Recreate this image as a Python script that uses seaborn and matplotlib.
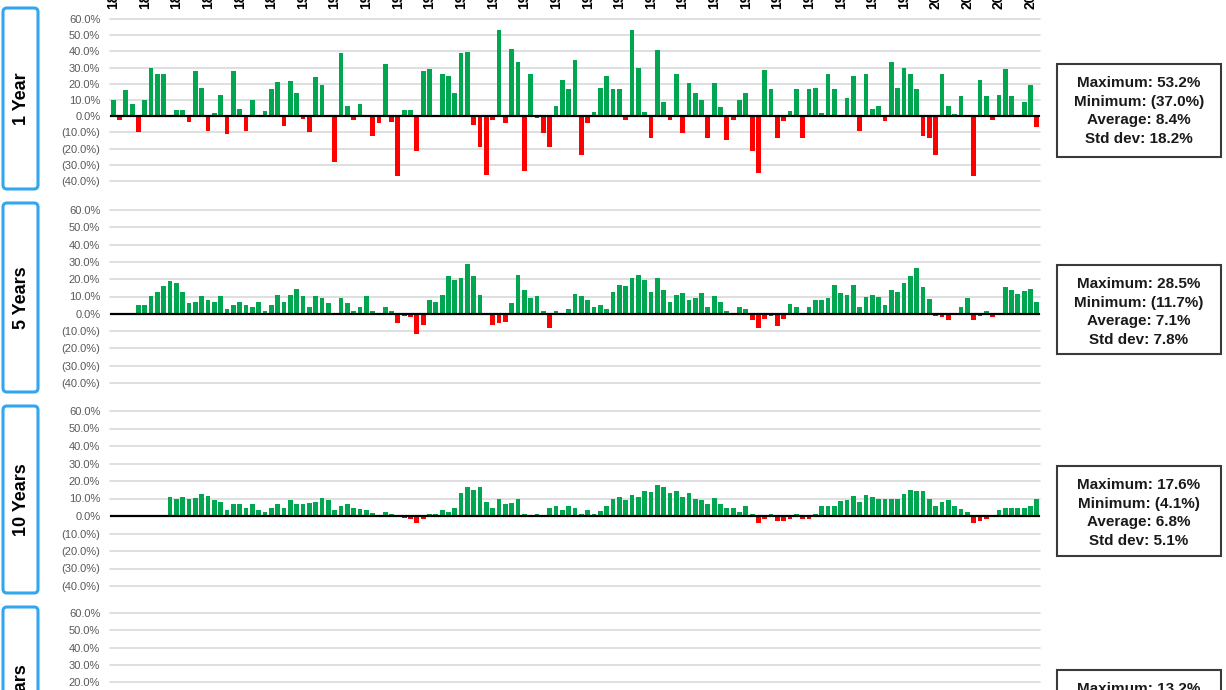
import numpy as np
import pandas as pd
import matplotlib
matplotlib.use("Agg")
import matplotlib.pyplot as plt
import seaborn as sns
from matplotlib.patches import FancyBboxPatch, Rectangle
from matplotlib.ticker import FuncFormatter

# ---------------- data ----------------
years = list(range(1872, 2019))  # 147 annual categories

ret_1y = [
    10.0, -2.5, 16.0, 7.5, -10.0, 10.0, 29.5, 26.0, 26.0, 0.5,
    4.0, 4.0, -3.5, 28.0, 17.5, -9.0, 2.0, 13.0, -11.0, 28.0,
    4.5, -9.0, 10.0, 0.5, 3.0, 17.0, 21.0, -6.0, 22.0, 14.5,
    -2.0, -10.0, 24.5, 19.0, 0.5, -28.0, 39.0, 6.5, -2.5, 7.5,
    0.5, -12.5, -4.0, 32.5, -3.3, -37.0, 4.1, 4.1, -21.3, 27.6,
    29.2, 1.0, 26.1, 24.6, 14.5, 38.9, 39.5, -5.4, -19.3, -36.2,
    -2.1, 53.2, -4.3, 41.4, 33.5, -33.9, 26.1, -1.0, -10.4, -19.3,
    6.6, 22.1, 17.0, 34.6, -23.8, -4.3, 2.9, 17.6, 24.6, 17.0,
    17.0, -2.3, 53.2, 30.0, 2.9, -13.5, 40.6, 8.7, -2.3, 26.1,
    -10.4, 20.3, 14.5, 9.7, -13.5, 20.2, 5.4, -14.7, -2.3, 9.7,
    14.5, -21.3, -35.2, 28.4, 17.0, -13.5, -3.1, 3.1, 17.0, -13.5,
    17.0, 17.6, 2.0, 25.9, 17.0, 1.0, 11.2, 24.6, -8.9, 25.9,
    4.6, 6.6, -2.7, 33.5, 17.6, 30.0, 25.9, 17.0, -12.4, -13.5,
    -23.8, 25.9, 6.6, 1.5, 12.2, 1.0, -37.0, 22.2, 12.2, -2.3,
    13.3, 29.4, 12.2, -0.5, 8.7, 19.0, -6.5,
]

start_5y = 1876
ret_5y = [
    5.2, 5.2, 10.2, 12.5, 15.8, 18.8,
    17.9, 12.5, 6.3, 7.1, 10.2, 7.7, 6.7, 10.2, 2.9, 5.2,
    7.1, 5.2, 3.8, 7.1, 1.9, 5.2, 11.0, 7.1, 11.0, 14.4,
    10.2, 3.8, 10.2, 9.0, 6.2, 0.3, 9.0, 6.2, 1.5, 3.8,
    10.2, 1.5, 0.3, 3.8, 1.9, -5.5, -1.5, -2.0, -11.7, -6.3,
    8.1, 7.1, 11.0, 21.7, 19.8, 20.6, 28.5, 21.7, 11.0, 0.3,
    -6.3, -5.2, -4.8, 6.2, 22.7, 13.5, 9.2, 10.2, 1.5, -8.3,
    1.5, 0.3, 2.9, 11.2, 10.2, 8.1, 3.8, 5.2, 2.9, 12.5,
    16.7, 16.0, 20.6, 22.7, 19.8, 12.5, 20.6, 13.5, 7.1, 11.0,
    12.1, 8.1, 9.2, 12.1, 3.8, 10.2, 7.1, 1.5, 0.3, 3.8,
    2.9, -3.3, -8.3, -2.9, -1.3, -7.1, -2.9, 5.8, 3.8, 0.5,
    3.8, 8.1, 8.1, 9.2, 16.7, 12.1, 11.0, 16.7, 3.8, 10.0,
    11.0, 10.0, 5.2, 13.5, 12.5, 17.9, 21.7, 26.3, 15.4, 8.3,
    -1.3, -1.9, -3.8, 0.3, 3.8, 9.2, -3.8, -1.3, 1.5, -1.9,
    0.3, 15.4, 13.5, 11.2, 13.1, 14.4, 7.1,
]

start_10y = 1881
ret_10y = [
    10.9,
    9.6, 10.9, 9.6, 10.3, 12.8, 11.3, 9.0, 8.0, 3.6, 6.7,
    6.7, 4.8, 6.7, 3.6, 2.3, 4.8, 6.7, 4.8, 9.0, 6.7,
    6.7, 7.5, 8.0, 10.3, 9.0, 3.6, 5.5, 6.7, 4.8, 4.2,
    3.2, 1.9, 0.8, 2.3, 1.3, 0.8, -1.0, -1.5, -4.0, -1.5,
    1.3, 1.3, 3.6, 2.3, 4.8, 13.2, 16.3, 15.1, 16.3, 8.0,
    4.8, 10.0, 6.7, 7.5, 10.0, 1.3, 0.8, 1.3, 0.8, 4.8,
    5.5, 3.6, 5.5, 4.8, 1.3, 3.6, 1.3, 2.9, 5.5, 10.0,
    10.9, 9.0, 11.9, 10.9, 14.1, 13.8, 17.6, 16.3, 13.2, 14.1,
    10.9, 13.2, 9.6, 9.0, 7.1, 10.3, 6.7, 4.8, 4.8, 2.3,
    5.7, 1.3, -4.0, -1.5, 1.3, -2.9, -2.9, -1.5, 1.3, -1.5,
    -1.5, 1.3, 5.7, 5.7, 5.7, 8.6, 9.4, 11.3, 8.0, 11.9,
    10.9, 9.9, 9.9, 9.9, 9.9, 12.8, 15.1, 14.1, 14.1, 9.9,
    5.5, 8.0, 9.0, 5.5, 4.2, 2.3, -4.1, -2.9, -1.5, 0.8,
    3.6, 4.8, 4.8, 4.8, 4.8, 5.7, 9.9,
]

panel_titles = ["1 Year", "5 Years", "10 Years", "20 Years"]
stat_texts = [
    ["Maximum: 53.2%", "Minimum: (37.0%)", "Average: 8.4%", "Std dev: 18.2%"],
    ["Maximum: 28.5%", "Minimum: (11.7%)", "Average: 7.1%", "Std dev: 7.8%"],
    ["Maximum: 17.6%", "Minimum: (4.1%)", "Average: 6.8%", "Std dev: 5.1%"],
    ["Maximum: 13.2%"],
]
y_ticks = list(range(-40, 61, 10))

# ---------------- style ----------------
sns.set_theme(style="white")
plt.rcParams["font.family"] = ["Liberation Sans", "DejaVu Sans"]

GREEN = "#00a650"
RED = "#ff0000"

W, H = 1226, 690
fig = plt.figure(figsize=(W / 100, H / 100), dpi=100)


def rect(l, t, r, b):
    return [l / W, 1 - b / H, (r - l) / W, (b - t) / H]


def pct_fmt(v, _):
    if v < 0:
        return f"({-v:.1f}%)"
    return f"{v:.1f}%"


year_labels = [str(y) for y in years]
panel_px = [(19, 181), (210, 383), (411, 586), (613, 786)]
series = [(years[0], ret_1y), (start_5y, ret_5y), (start_10y, ret_10y), None]

for k, (top, bot) in enumerate(panel_px):
    ax = fig.add_axes(rect(110, top, 1040, bot))
    s = series[k]
    if s is not None:
        start, vals = s
        yrs = [str(start + j) for j in range(len(vals))]
        df = pd.DataFrame({"year": yrs, "value": vals})
        df["sign"] = np.where(df["value"] >= 0, "pos", "neg")
        sns.barplot(data=df, x="year", y="value", hue="sign", order=year_labels,
                    hue_order=["pos", "neg"], palette={"pos": GREEN, "neg": RED},
                    dodge=False, width=0.75, errorbar=None, legend=False,
                    saturation=1, linewidth=0, ax=ax)
    ax.set_xlim(-0.5, len(years) - 0.5)
    ax.set_ylim(-40, 60)
    ax.set_yticks(y_ticks)
    ax.yaxis.set_major_formatter(FuncFormatter(pct_fmt))
    ax.tick_params(axis="y", length=0, pad=7, labelsize=8, labelcolor="#595959")
    ax.grid(axis="y", color="#d9d9d9", lw=1.2)
    ax.grid(axis="x", visible=False)
    for gl in ax.get_ygridlines():
        gl.set_clip_on(False)
    ax.set_axisbelow(True)
    for sp in ax.spines.values():
        sp.set_visible(False)
    ax.axhline(0, color="black", lw=1.6, zorder=3)
    ax.set_xlabel("")
    ax.set_ylabel("")
    ax.set_facecolor("none")
    if k == 0:
        ax.xaxis.tick_top()
        ax.set_xticks(range(0, len(years), 5))
        ax.set_xticklabels(year_labels[::5], rotation=90, fontsize=10,
                           fontweight="bold", color="black")
        ax.tick_params(axis="x", length=0, pad=7.5)
    else:
        ax.set_xticks([])

# overlay for boxes and labels (pixel coordinates)
ov = fig.add_axes([0, 0, 1, 1])
ov.set_xlim(0, W)
ov.set_ylim(H, 0)
ov.axis("off")

left_boxes = [(8, 189), (203, 392), (406, 593), (607, 795)]
for k, (t, b) in enumerate(left_boxes):
    ov.add_patch(FancyBboxPatch((3, t), 35, b - t,
                                boxstyle="round,pad=0,rounding_size=4",
                                ec="#33a6f0", fc="white", lw=2.2, clip_on=False))
    ov.text(21, (t + b) / 2, panel_titles[k], rotation=90, ha="center",
            va="center", fontsize=13, fontweight="bold", color="black")

stat_boxes = [(64, 157), (265, 354), (466, 556), (670, 762)]
for k, (t, b) in enumerate(stat_boxes):
    ov.add_patch(Rectangle((1057, t), 164, b - t, ec="#3a3a3a", fc="white",
                           lw=1.5, clip_on=False))
    for j, line in enumerate(stat_texts[k]):
        ov.text(1139, t + 19 + j * 18.6, line, ha="center", va="center",
                fontsize=11, fontweight="bold", color="#1a1a1a")

fig.savefig("out.png", dpi=100)
